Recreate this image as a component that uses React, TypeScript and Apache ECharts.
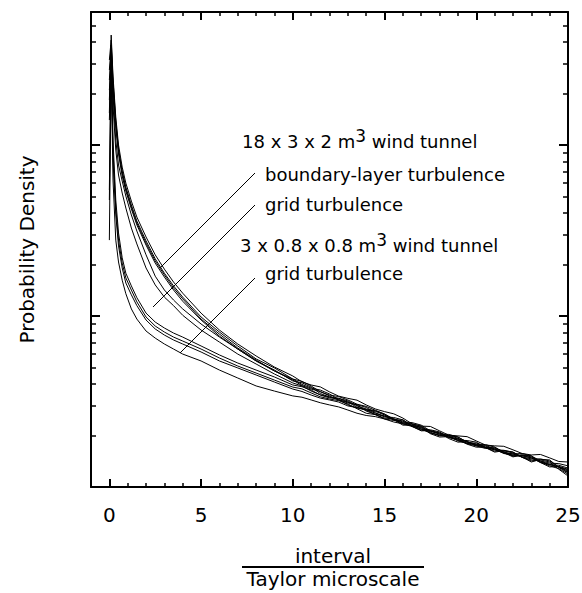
import React, { useEffect, useRef } from "react";
import * as echarts from "echarts";

// Interval / Taylor microscale sample positions
const X_POS = [0, 0.1, 0.2, 0.35, 0.5, 0.7, 0.9, 1.2, 1.5, 2, 2.5, 3, 3.5, 4, 5, 6, 7, 8, 9, 10, 10.5, 11, 11.5, 12, 12.5, 13, 13.5, 14, 14.5, 15, 15.5, 16, 16.5, 17, 17.5, 18, 18.5, 19, 19.5, 20, 20.5, 21, 21.5, 22, 22.5, 23, 23.5, 24, 24.5, 25];

// 18 x 3 x 2 m3 tunnel, boundary-layer turbulence
const BL_1 = [0.1538, 0.4398, 0.2533, 0.1458, 0.1001, 0.0743, 0.0599, 0.0470, 0.0379, 0.0290, 0.0228, 0.0188, 0.0158, 0.0136, 0.0104, 0.00828, 0.00686, 0.00584, 0.00503, 0.00446,
  0.00412, 0.00395, 0.00385, 0.00360, 0.00340, 0.00330, 0.00322, 0.00302, 0.00286, 0.00276, 0.00268, 0.00253, 0.00234, 0.00227, 0.00226, 0.00213, 0.00201, 0.00199, 0.00197, 0.00186, 0.00176, 0.00174, 0.00173, 0.00165, 0.00157, 0.00154, 0.00155, 0.00148, 0.00141, 0.00140];
const BL_2 = [0.3141, 0.4111, 0.2399, 0.1381, 0.0946, 0.0705, 0.0567, 0.0446, 0.0359, 0.0275, 0.0216, 0.0178, 0.0150, 0.0129, 0.00987, 0.00806, 0.00668, 0.00561, 0.00497, 0.00428,
  0.00415, 0.00390, 0.00360, 0.00345, 0.00338, 0.00323, 0.00305, 0.00296, 0.00281, 0.00267, 0.00250, 0.00240, 0.00238, 0.00230, 0.00213, 0.00204, 0.00203, 0.00196, 0.00183, 0.00178, 0.00177, 0.00171, 0.00160, 0.00156, 0.00157, 0.00152, 0.00142, 0.00138, 0.00137, 0.00133];
const BL_3 = [0.2745, 0.3845, 0.2273, 0.1327, 0.0922, 0.0686, 0.0553, 0.0434, 0.0350, 0.0267, 0.0210, 0.0174, 0.0146, 0.0126, 0.00960, 0.00784, 0.00650, 0.00553, 0.00477, 0.00428,
  0.00398, 0.00379, 0.00369, 0.00350, 0.00325, 0.00310, 0.00303, 0.00292, 0.00272, 0.00257, 0.00255, 0.00247, 0.00228, 0.00218, 0.00216, 0.00210, 0.00195, 0.00188, 0.00187, 0.00183, 0.00170, 0.00165, 0.00164, 0.00160, 0.00150, 0.00146, 0.00146, 0.00142, 0.00131, 0.00126];
const BL_4 = [0.2399, 0.3594, 0.2154, 0.1274, 0.0886, 0.0659, 0.0538, 0.0423, 0.0341, 0.0260, 0.0204, 0.0169, 0.0142, 0.0122, 0.00948, 0.00763, 0.00641, 0.00546, 0.00483, 0.00417,
  0.00407, 0.00384, 0.00352, 0.00336, 0.00330, 0.00314, 0.00293, 0.00282, 0.00277, 0.00264, 0.00246, 0.00237, 0.00233, 0.00221, 0.00207, 0.00201, 0.00200, 0.00193, 0.00180, 0.00176, 0.00175, 0.00167, 0.00157, 0.00154, 0.00153, 0.00148, 0.00139, 0.00136, 0.00131, 0.00122];
// 18 x 3 x 2 m3 tunnel, grid turbulence
const BIG_GRID_1 = [0.0546, 0.3845, 0.1960, 0.1070, 0.0764, 0.0616, 0.0503, 0.0390, 0.0314, 0.0228, 0.0171, 0.0142, 0.0124, 0.0110, 0.00898, 0.00753, 0.00641, 0.00546, 0.00477, 0.00422,
  0.00392, 0.00374, 0.00362, 0.00341, 0.00322, 0.00314, 0.00302, 0.00278, 0.00266, 0.00260, 0.00250, 0.00234, 0.00226, 0.00224, 0.00212, 0.00207, 0.00199, 0.00186, 0.00180, 0.00181, 0.00170, 0.00162, 0.00163, 0.00158, 0.00149, 0.00144, 0.00142, 0.00135, 0.00134, 0.00129];
const BIG_GRID_2 = [0.1833, 0.3594, 0.1714, 0.0935, 0.0668, 0.0524, 0.0428, 0.0327, 0.0264, 0.0191, 0.0152, 0.0129, 0.0115, 0.0101, 0.00828, 0.00704, 0.00599, 0.00524, 0.00458, 0.00406,
  0.00390, 0.00364, 0.00346, 0.00336, 0.00324, 0.00302, 0.00290, 0.00282, 0.00265, 0.00253, 0.00250, 0.00243, 0.00226, 0.00215, 0.00212, 0.00204, 0.00195, 0.00191, 0.00185, 0.00174, 0.00168, 0.00169, 0.00161, 0.00152, 0.00154, 0.00150, 0.00140, 0.00133, 0.00128, 0.00119];
// 3 x 0.8 x 0.8 m3 tunnel, grid turbulence
const SMALL_GRID_1 = [0.0477, 0.3361, 0.1070, 0.0477, 0.0306, 0.0219, 0.0178, 0.0150, 0.0128, 0.0104, 0.00922, 0.00851, 0.00795, 0.00753, 0.00668, 0.00592, 0.00531, 0.00483, 0.00440, 0.00395,
  0.00386, 0.00369, 0.00345, 0.00332, 0.00330, 0.00319, 0.00298, 0.00286, 0.00279, 0.00267, 0.00248, 0.00237, 0.00234, 0.00227, 0.00209, 0.00199, 0.00200, 0.00196, 0.00183, 0.00176, 0.00170, 0.00160, 0.00163, 0.00160, 0.00149, 0.00142, 0.00144, 0.00140, 0.00127, 0.00116];
const SMALL_GRID_2 = [0.1400, 0.3141, 0.0935, 0.0428, 0.0278, 0.0204, 0.0167, 0.0142, 0.0121, 0.00987, 0.00874, 0.00806, 0.00753, 0.00714, 0.00641, 0.00568, 0.00510, 0.00464, 0.00422, 0.00384,
  0.00375, 0.00355, 0.00337, 0.00327, 0.00320, 0.00306, 0.00287, 0.00270, 0.00265, 0.00250, 0.00245, 0.00247, 0.00226, 0.00213, 0.00214, 0.00207, 0.00192, 0.00183, 0.00184, 0.00178, 0.00170, 0.00171, 0.00159, 0.00150, 0.00154, 0.00152, 0.00139, 0.00131, 0.00132, 0.00127];
const SMALL_GRID_3 = [0.2097, 0.2936, 0.0817, 0.0390, 0.0257, 0.0191, 0.0156, 0.0133, 0.0115, 0.00948, 0.00840, 0.00774, 0.00724, 0.00686, 0.00616, 0.00546, 0.00497, 0.00452, 0.00411, 0.00374,
  0.00362, 0.00345, 0.00331, 0.00323, 0.00314, 0.00298, 0.00291, 0.00284, 0.00270, 0.00260, 0.00248, 0.00230, 0.00230, 0.00224, 0.00205, 0.00196, 0.00197, 0.00191, 0.00178, 0.00171, 0.00171, 0.00165, 0.00158, 0.00156, 0.00150, 0.00140, 0.00145, 0.00144, 0.00130, 0.00121];
const SMALL_GRID_4 = [0.0278, 0.2745, 0.0624, 0.0278, 0.0207, 0.0162, 0.0135, 0.0110, 0.00960, 0.00817, 0.00743, 0.00686, 0.00641, 0.00599, 0.00546, 0.00483, 0.00434, 0.00390, 0.00364, 0.00341,
  0.00335, 0.00323, 0.00311, 0.00302, 0.00294, 0.00282, 0.00270, 0.00262, 0.00258, 0.00250, 0.00240, 0.00234, 0.00229, 0.00218, 0.00207, 0.00201, 0.00196, 0.00188, 0.00179, 0.00174, 0.00173, 0.00167, 0.00158, 0.00152, 0.00152, 0.00148, 0.00140, 0.00135, 0.00131, 0.00124];

const SERIES_LIST: [string, number[]][] = [
  ["18x3x2 boundary-layer 1", BL_1],
  ["18x3x2 boundary-layer 2", BL_2],
  ["18x3x2 boundary-layer 3", BL_3],
  ["18x3x2 boundary-layer 4", BL_4],
  ["18x3x2 grid 1", BIG_GRID_1],
  ["18x3x2 grid 2", BIG_GRID_2],
  ["3x0.8x0.8 grid 1", SMALL_GRID_1],
  ["3x0.8x0.8 grid 2", SMALL_GRID_2],
  ["3x0.8x0.8 grid 3", SMALL_GRID_3],
  ["3x0.8x0.8 grid 4", SMALL_GRID_4],
];

const X_MAJOR = [0, 5, 10, 15, 20, 25];
const X_MINOR = [1, 2, 3, 4, 6, 7, 8, 9, 11, 12, 13, 14, 16, 17, 18, 19, 21, 22, 23, 24];
const Y_MAJOR = [0.01, 0.1];
const Y_MINOR = [0.002, 0.003, 0.004, 0.005, 0.006, 0.007, 0.008, 0.009, 0.02, 0.03, 0.04, 0.05, 0.06, 0.07, 0.08, 0.09, 0.2, 0.3, 0.4, 0.5];

const FONT = "DejaVu Sans";
const BLACK = "#000";

function xAxisDef(position: string, ticks: number[], len: number, w: number, main: boolean) {
  return {
    type: "value",
    min: -1,
    max: 25,
    position,
    axisLine: { show: main, onZero: false, lineStyle: { color: BLACK, width: 2 } },
    axisTick: { show: true, inside: true, length: len, customValues: ticks, lineStyle: { color: BLACK, width: w } },
    axisLabel: main && position === "bottom"
      ? { show: true, customValues: X_MAJOR, fontSize: 20, fontFamily: FONT, color: BLACK, margin: 18 }
      : { show: false },
    splitLine: { show: false },
  };
}

function yAxisDef(position: string, ticks: number[], len: number, w: number, main: boolean) {
  const base: any = {
    type: "log",
    logBase: 10,
    min: 0.001,
    max: 0.6,
    position,
    axisLine: { show: main, onZero: false, lineStyle: { color: BLACK, width: 2 } },
    axisTick: { show: true, inside: true, length: len, customValues: ticks, lineStyle: { color: BLACK, width: w } },
    axisLabel: { show: false },
    splitLine: { show: false },
  };
  if (main && position === "left") {
    base.name = "Probability Density";
    base.nameLocation = "middle";
    base.nameGap = 54;
    base.nameTextStyle = { fontSize: 20, fontFamily: FONT, color: BLACK };
  }
  return base;
}

const txt = (x: number, y: number, text: string, align = "left") => ({
  type: "text",
  x,
  y,
  style: { text, fontSize: 18, fontFamily: FONT, fill: BLACK, align, verticalAlign: "middle" },
});

const supText = (x: number, y: number, before: string, after: string) => ({
  type: "text",
  x,
  y,
  style: {
    text: `{n|${before}}{s|3}{n|${after}}`,
    fontSize: 18,
    fontFamily: FONT,
    fill: BLACK,
    align: "left",
    verticalAlign: "middle",
    rich: {
      n: { fontSize: 18, fontFamily: FONT, fill: BLACK },
      s: { fontSize: 17, fontFamily: FONT, fill: BLACK, padding: [0, 0, 10, 0] },
    },
  },
});

const leader = (x1: number, y1: number, x2: number, y2: number) => ({
  type: "line",
  shape: { x1, y1, x2, y2 },
  style: { stroke: BLACK, lineWidth: 1 },
});

export default function App() {
  const ref = useRef<HTMLDivElement>(null);
  useEffect(() => {
    if (!ref.current) return;
    const chart = echarts.init(ref.current, null, { renderer: "svg" });
    const option: any = {
      animation: false,
      backgroundColor: "#fff",
      textStyle: { fontFamily: FONT },
      grid: { left: 91, right: 14, top: 12, bottom: 106, outerBoundsMode: "none" },
      xAxis: [
        xAxisDef("bottom", X_MAJOR, 8, 2, true),
        xAxisDef("bottom", X_MINOR, 4, 1.5, false),
        xAxisDef("top", X_MAJOR, 8, 2, true),
        xAxisDef("top", X_MINOR, 4, 1.5, false),
      ],
      yAxis: [
        yAxisDef("left", Y_MAJOR, 9, 2, true),
        yAxisDef("left", Y_MINOR, 5, 1.5, false),
        yAxisDef("right", Y_MAJOR, 9, 2, true),
        yAxisDef("right", Y_MINOR, 5, 1.5, false),
      ],
      series: SERIES_LIST.map(([name, ys]) => ({
        name,
        type: "line",
        xAxisIndex: 0,
        yAxisIndex: 0,
        data: X_POS.map((x, i) => [x, ys[i]]),
        showSymbol: false,
        symbol: "none",
        silent: true,
        lineStyle: { color: BLACK, width: 1 },
      })),
      graphic: [
        supText(242, 141, "18 x 3 x 2 m", " wind tunnel"),
        txt(265, 174, "boundary-layer turbulence"),
        txt(265, 204, "grid turbulence"),
        supText(240, 245, "3 x 0.8 x 0.8 m", " wind tunnel"),
        txt(265, 273, "grid turbulence"),
        leader(255, 173, 160, 268),
        leader(255, 205, 153, 307),
        leader(255, 278, 180, 353),
        {
          type: "text",
          x: 333,
          y: 556,
          style: { text: "interval", fontSize: 20, fontFamily: FONT, fill: BLACK, align: "center", verticalAlign: "middle" },
        },
        {
          type: "line",
          shape: { x1: 242, y1: 567, x2: 424, y2: 567 },
          style: { stroke: BLACK, lineWidth: 2 },
        },
        {
          type: "text",
          x: 333,
          y: 579,
          style: { text: "Taylor microscale", fontSize: 20, fontFamily: FONT, fill: BLACK, align: "center", verticalAlign: "middle" },
        },
      ],
    };
    chart.setOption(option);
    return () => chart.dispose();
  }, []);
  return (
    <div
      ref={ref}
      style={{ position: "fixed", left: 0, top: 0, width: 582, height: 593, background: "#fff" }}
    />
  );
}
